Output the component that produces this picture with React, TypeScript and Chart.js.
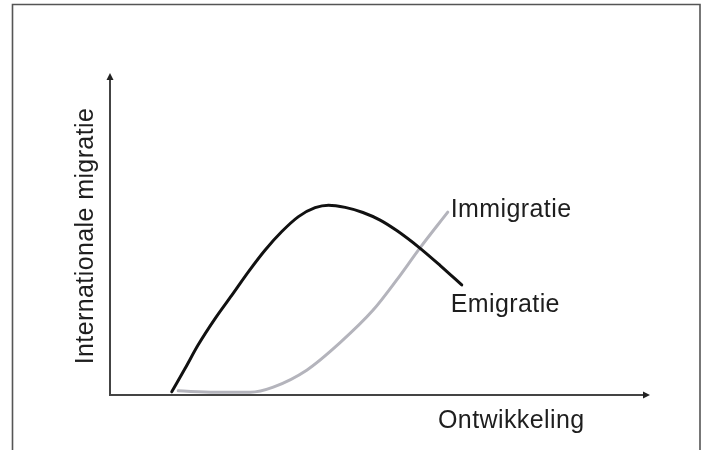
import React, { useEffect, useRef } from "react";
import { Chart, registerables } from "chart.js";

Chart.register(...registerables);

// Data (x = development, y = migration, arbitrary units 0-100)
const emigratieX = [11.5, 14.0, 16.4, 19.6, 22.7, 25.8, 28.9, 32.0, 35.1, 38.2, 40.7, 43.8, 47.1, 50.3, 53.4, 57.7, 61.5, 65.5];
const emigratieY = [1.0, 8.4, 15.7, 24.1, 31.4, 38.8, 45.6, 51.4, 56.1, 58.9, 59.7, 59.0, 57.4, 55.0, 51.7, 46.2, 40.7, 34.6];
const immigratieX = [12.7, 19.6, 26.1, 30.4, 36.7, 42.8, 49.0, 53.4, 57.7, 62.9];
const immigratieY = [1.3, 0.9, 0.9, 2.5, 7.9, 16.4, 26.7, 36.2, 46.2, 57.5];
const seriesNames = ["Emigratie", "Immigratie"];
const xAxisTitle = "Ontwikkeling";
const yAxisTitle = "Internationale migratie";

const FONT = "25px 'Liberation Sans', Arial, Helvetica, sans-serif";
const TEXT_COLOR = "#1e1e1e";
const AXIS_COLOR = "#444";

const decorPlugin = {
  id: "decor",
  afterDraw(chart: any) {
    const ctx = chart.ctx as CanvasRenderingContext2D;
    const { left, right, top, bottom } = chart.chartArea;
    ctx.save();

    // outer frame (open at the bottom)
    ctx.strokeStyle = "#555";
    ctx.lineWidth = 1.6;
    ctx.beginPath();
    ctx.moveTo(12.5, chart.height);
    ctx.lineTo(12.5, 4.5);
    ctx.lineTo(700, 4.5);
    ctx.lineTo(700, chart.height);
    ctx.stroke();

    // arrow heads
    ctx.fillStyle = "#222";
    ctx.beginPath();
    ctx.moveTo(left, top - 4);
    ctx.lineTo(left - 3.5, top + 3);
    ctx.lineTo(left + 3.5, top + 3);
    ctx.closePath();
    ctx.fill();
    ctx.beginPath();
    ctx.moveTo(right + 3, bottom);
    ctx.lineTo(right - 4, bottom - 3.5);
    ctx.lineTo(right - 4, bottom + 3.5);
    ctx.closePath();
    ctx.fill();

    ctx.font = FONT;
    (ctx as any).letterSpacing = "0.4px";
    ctx.fillStyle = TEXT_COLOR;
    ctx.textBaseline = "alphabetic";

    // series labels next to line ends
    const xs = chart.scales.x;
    const ys = chart.scales.y;
    const emLastX = xs.getPixelForValue(emigratieX[emigratieX.length - 1]);
    const emLastY = ys.getPixelForValue(emigratieY[emigratieY.length - 1]);
    const imLastX = xs.getPixelForValue(immigratieX[immigratieX.length - 1]);
    const imLastY = ys.getPixelForValue(immigratieY[immigratieY.length - 1]);
    ctx.textAlign = "left";
    ctx.fillText(seriesNames[1], imLastX + 3, imLastY + 5);
    ctx.fillText(seriesNames[0], emLastX - 11, emLastY + 27);

    // x axis title
    ctx.fillText(xAxisTitle, right - 209, bottom + 33);

    // y axis title
    ctx.save();
    ctx.translate(left - 17, (top + bottom) / 2);
    ctx.rotate(-Math.PI / 2);
    ctx.textAlign = "center";
    ctx.fillText(yAxisTitle, 0, 0);
    ctx.restore();

    ctx.restore();
  },
};

export default function App() {
  const ref = useRef<HTMLCanvasElement | null>(null);
  useEffect(() => {
    if (!ref.current) return;
    const chart = new Chart(ref.current, {
      type: "line",
      data: {
        datasets: [
          {
            label: seriesNames[0],
            data: emigratieX.map((x, i) => ({ x, y: emigratieY[i] })),
            borderColor: "#111",
            borderWidth: 3,
            pointRadius: 0,
            cubicInterpolationMode: "monotone",
            borderCapStyle: "round",
            borderJoinStyle: "round",
            fill: false,
          },
          {
            label: seriesNames[1],
            data: immigratieX.map((x, i) => ({ x, y: immigratieY[i] })),
            borderColor: "#b4b4bc",
            borderWidth: 3,
            pointRadius: 0,
            cubicInterpolationMode: "monotone",
            borderCapStyle: "round",
            borderJoinStyle: "round",
            fill: false,
          },
        ],
      },
      options: {
        responsive: false,
        animation: false,
        clip: false as any,
        layout: { padding: { left: 110, right: 58, top: 77, bottom: 55 } },
        plugins: { legend: { display: false }, tooltip: { enabled: false } },
        scales: {
          x: {
            type: "linear",
            min: 0,
            max: 100,
            ticks: { display: false },
            grid: { display: false, drawTicks: false },
            border: { display: true, color: AXIS_COLOR, width: 2 },
          },
          y: {
            type: "linear",
            min: 0,
            max: 100,
            ticks: { display: false },
            grid: { display: false, drawTicks: false },
            border: { display: true, color: AXIS_COLOR, width: 2 },
          },
        },
      },
      plugins: [decorPlugin],
    });
    return () => chart.destroy();
  }, []);
  return (
    <div style={{ position: "absolute", left: 0, top: 0, width: 705, height: 450, background: "#fff" }}>
      <canvas ref={ref} width={705} height={450} style={{ display: "block" }} />
    </div>
  );
}
